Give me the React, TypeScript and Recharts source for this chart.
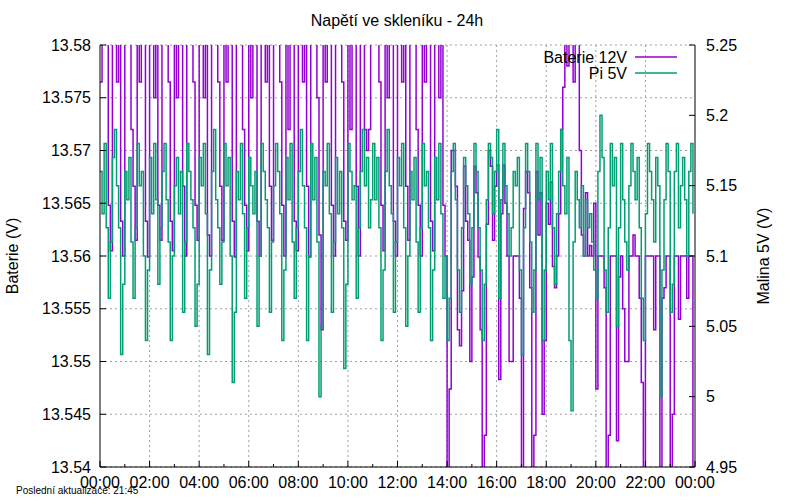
import { LineChart, Line, XAxis, YAxis, CartesianGrid, ReferenceLine } from 'recharts';

// one sample every 5 minutes, 00:00 .. 23:55
const SAMPLE_MIN = 5;

// Baterie 12V (left axis) in 4h chunks
const bat00 = [
  13.5765, 13.585, 13.585, 13.585, 13.5648, 13.5605,
  13.585, 13.585, 13.5765, 13.585, 13.5633, 13.56,
  13.585, 13.585, 13.585, 13.572, 13.5666, 13.5615,
  13.585, 13.5765, 13.585, 13.585, 13.5633, 13.5599,
  13.585, 13.585, 13.575, 13.585, 13.5648, 13.5615,
  13.585, 13.585, 13.585, 13.5765, 13.5633, 13.5605,
  13.585, 13.575, 13.585, 13.585, 13.5666, 13.56,
  13.585, 13.585, 13.585, 13.5765, 13.5648, 13.5615,
];
const bat04 = [
  13.585, 13.585, 13.575, 13.585, 13.562, 13.56,
  13.585, 13.585, 13.585, 13.5765, 13.5666, 13.5615,
  13.585, 13.5765, 13.585, 13.585, 13.5633, 13.5599,
  13.585, 13.585, 13.585, 13.572, 13.5648, 13.5605,
  13.585, 13.575, 13.585, 13.585, 13.5633, 13.56,
  13.585, 13.585, 13.5765, 13.585, 13.5666, 13.5615,
  13.585, 13.585, 13.585, 13.5765, 13.5648, 13.56,
  13.585, 13.572, 13.585, 13.585, 13.5633, 13.5605,
];
const bat08 = [
  13.585, 13.585, 13.5765, 13.585, 13.5666, 13.5599,
  13.585, 13.585, 13.585, 13.575, 13.562, 13.553,
  13.585, 13.5765, 13.585, 13.585, 13.5648, 13.56,
  13.585, 13.585, 13.585, 13.5765, 13.5633, 13.5615,
  13.585, 13.572, 13.585, 13.585, 13.5666, 13.56,
  13.585, 13.585, 13.572, 13.57, 13.572, 13.585,
  13.585, 13.585, 13.585, 13.5765, 13.5648, 13.5605,
  13.585, 13.575, 13.585, 13.585, 13.5633, 13.56,
];
const bat12 = [
  13.585, 13.585, 13.5765, 13.585, 13.5666, 13.5615,
  13.585, 13.585, 13.585, 13.572, 13.5648, 13.56,
  13.585, 13.5765, 13.585, 13.585, 13.5633, 13.5605,
  13.585, 13.585, 13.575, 13.585, 13.5648, 13.56,
  13.538, 13.5474, 13.57, 13.57, 13.5666, 13.553,
  13.5515, 13.5567, 13.5685, 13.5633, 13.5615, 13.55,
  13.558, 13.5685, 13.566, 13.5599, 13.553, 13.538,
  13.543, 13.563, 13.57, 13.5685, 13.5615, 13.5666,
];
const bat16 = [
  13.5686, 13.5483, 13.564, 13.5686, 13.565, 13.56,
  13.55, 13.55, 13.56, 13.56, 13.56, 13.556,
  13.538, 13.5645, 13.568, 13.566, 13.557, 13.538,
  13.543, 13.568, 13.562, 13.566, 13.545, 13.552,
  13.565, 13.563, 13.567, 13.559, 13.557, 13.56,
  13.564, 13.572, 13.576, 13.585, 13.578, 13.585,
  13.585, 13.5765, 13.585, 13.585, 13.57, 13.562,
  13.56, 13.566, 13.56, 13.561, 13.56, 13.565,
];
const bat20 = [
  13.5474, 13.56, 13.56, 13.56, 13.557, 13.538,
  13.543, 13.56, 13.56, 13.56, 13.5425, 13.558,
  13.56, 13.555, 13.55, 13.55, 13.56, 13.56,
  13.562, 13.56, 13.56, 13.556, 13.548, 13.538,
  13.56, 13.56, 13.56, 13.56, 13.553, 13.56,
  13.56, 13.538, 13.556, 13.557, 13.56, 13.56,
  13.538, 13.545, 13.56, 13.56, 13.554, 13.56,
  13.56, 13.56, 13.556, 13.56, 13.56, 13.538,
];

// Pi 5V (right axis)
const pi00 = [
  5.16, 5.13, 5.18, 5.12, 5.07, 5.11,
  5.17, 5.19, 5.15, 5.12, 5.03, 5.08,
  5.16, 5.14, 5.17, 5.11, 5.07, 5.12,
  5.18, 5.15, 5.16, 5.10, 5.04, 5.09,
  5.17, 5.13, 5.18, 5.14, 5.08, 5.12,
  5.16, 5.18, 5.14, 5.11, 5.04, 5.10,
  5.15, 5.17, 5.13, 5.16, 5.06, 5.11,
  5.18, 5.16, 5.14, 5.12, 5.05, 5.08,
];
const pi04 = [
  5.17, 5.15, 5.18, 5.13, 5.03, 5.09,
  5.16, 5.19, 5.14, 5.12, 5.08, 5.11,
  5.18, 5.15, 5.17, 5.10, 5.01, 5.06,
  5.16, 5.14, 5.18, 5.13, 5.07, 5.12,
  5.17, 5.15, 5.13, 5.16, 5.05, 5.10,
  5.18, 5.16, 5.14, 5.12, 5.06, 5.11,
  5.15, 5.18, 5.16, 5.13, 5.04, 5.09,
  5.17, 5.14, 5.18, 5.11, 5.07, 5.12,
];
const pi08 = [
  5.16, 5.19, 5.15, 5.12, 5.04, 5.10,
  5.18, 5.14, 5.17, 5.11, 5.00, 5.05,
  5.16, 5.15, 5.18, 5.13, 5.06, 5.11,
  5.17, 5.13, 5.16, 5.12, 5.02, 5.08,
  5.18, 5.16, 5.14, 5.15, 5.07, 5.12,
  5.16, 5.19, 5.15, 5.17, 5.12, 5.14,
  5.18, 5.14, 5.17, 5.12, 5.04, 5.09,
  5.16, 5.19, 5.15, 5.13, 5.06, 5.11,
];
const pi12 = [
  5.17, 5.15, 5.18, 5.12, 5.05, 5.10,
  5.16, 5.14, 5.17, 5.11, 5.06, 5.12,
  5.18, 5.15, 5.16, 5.12, 5.04, 5.09,
  5.17, 5.14, 5.18, 5.13, 5.07, 5.10,
  5.04, 5.07, 5.16, 5.18, 5.14, 5.09,
  5.06, 5.12, 5.17, 5.15, 5.13, 5.08,
  5.12, 5.18, 5.16, 5.12, 5.09, 5.04,
  5.08, 5.14, 5.18, 5.17, 5.13, 5.16,
];
const pi16 = [
  5.19, 5.07, 5.14, 5.18, 5.15, 5.13,
  5.10, 5.12, 5.16, 5.15, 5.17, 5.09,
  5.03, 5.12, 5.18, 5.16, 5.11, 5.06,
  5.09, 5.18, 5.14, 5.17, 5.04, 5.09,
  5.16, 5.14, 5.18, 5.12, 5.08, 5.13,
  5.16, 5.19, 5.15, 5.13, 5.17, 5.04,
  4.99, 5.11, 5.16, 5.14, 5.12, 5.15,
  5.10, 5.14, 5.12, 5.13, 5.11, 5.09,
];
const pi20 = [
  5.07, 5.16, 5.20, 5.17, 5.09, 5.06,
  5.12, 5.18, 5.15, 5.17, 5.05, 5.12,
  5.18, 5.14, 5.11, 5.09, 5.15, 5.18,
  5.16, 5.14, 5.17, 5.12, 5.07, 5.04,
  5.13, 5.18, 5.16, 5.14, 5.11, 5.17,
  5.15, 5.00, 5.09, 5.14, 5.18, 5.16,
  5.06, 5.08, 5.16, 5.18, 5.12, 5.15,
  5.17, 5.14, 5.10, 5.16, 5.18, 5.13,
];

const HOUR_TICKS = [0, 60, 120, 180, 240, 300, 360, 420, 480, 540, 600, 660, 720, 780, 840, 900, 960, 1020, 1080, 1140, 1200, 1260, 1320, 1380, 1440];
const GRID_X = [120, 240, 360, 480, 600, 720, 840, 960, 1080, 1200, 1320];
const BAT_TICKS = [13.54, 13.545, 13.55, 13.555, 13.56, 13.565, 13.57, 13.575, 13.58];
const PI_TICKS = [4.95, 5, 5.05, 5.1, 5.15, 5.2, 5.25];

const battery = [...bat00, ...bat04, ...bat08, ...bat12, ...bat16, ...bat20];
const pi = [...pi00, ...pi04, ...pi08, ...pi12, ...pi16, ...pi20];
const data = battery.map((b, i) => ({ t: i * SAMPLE_MIN, bat: b, pi: pi[i] }));

const FONT = '"Liberation Sans", Arial, sans-serif';
const PURPLE = '#9400d3';
const GREEN = '#009e73';
const GRID = '#a0a0a0';
const LINE_W = 1.5;

const hhmm = (m: number) => {
  const h = Math.floor((m % 1440) / 60);
  return `${String(h).padStart(2, '0')}:00`;
};

// gnuplot style: ticks point into the plot
// eslint-disable-next-line @typescript-eslint/no-explicit-any
const BottomTick = ({ x, y, payload }: any) => {
  const major = payload.value % 120 === 0;
  return (
    <g>
      <line x1={x} x2={x} y1={y} y2={y - (major ? 6 : 3)} stroke="#000" />
      {major && (
        <text x={x} y={y + 21} textAnchor="middle" fontFamily={FONT} fontSize={16} fill="#000">
          {hhmm(payload.value)}
        </text>
      )}
    </g>
  );
};

// eslint-disable-next-line @typescript-eslint/no-explicit-any
const TopTick = ({ x, y, payload }: any) => {
  const major = payload.value % 120 === 0;
  return <line x1={x} x2={x} y1={y} y2={y + (major ? 6 : 3)} stroke="#000" />;
};

// eslint-disable-next-line @typescript-eslint/no-explicit-any
const LeftTick = ({ x, y, payload }: any) => (
  <g>
    <line x1={x} x2={x + 6} y1={y} y2={y} stroke="#000" />
    <text x={x - 9} y={y + 5.5} textAnchor="end" fontFamily={FONT} fontSize={16} fill="#000">
      {String(payload.value)}
    </text>
  </g>
);

// eslint-disable-next-line @typescript-eslint/no-explicit-any
const RightTick = ({ x, y, payload }: any) => (
  <g>
    <line x1={x} x2={x - 6} y1={y} y2={y} stroke="#000" />
    <text x={x + 11} y={y + 5.5} textAnchor="start" fontFamily={FONT} fontSize={16} fill="#000">
      {String(payload.value)}
    </text>
  </g>
);

export default function App() {
  return (
    <div style={{ position: 'absolute', left: 0, top: 0, width: 800, height: 500, background: '#fff' }}>
      <LineChart width={800} height={500} data={data} margin={{ top: 45, right: 0, bottom: 0, left: 0 }}>
        <CartesianGrid xAxisId="bottom" yAxisId="left" vertical={false} stroke={GRID} strokeDasharray="2 3" />
        <XAxis
          xAxisId="bottom"
          dataKey="t"
          type="number"
          domain={[0, 1440]}
          ticks={HOUR_TICKS}
          interval={0}
          height={33}
          tickSize={0}
          tickMargin={0}
          tickLine={false}
          tick={<BottomTick />}
          axisLine={{ stroke: '#000' }}
        />
        <XAxis
          xAxisId="top"
          orientation="top"
          dataKey="t"
          type="number"
          domain={[0, 1440]}
          ticks={HOUR_TICKS}
          interval={0}
          height={0}
          tickSize={0}
          tickMargin={0}
          tickLine={false}
          tick={<TopTick />}
          axisLine={{ stroke: '#000' }}
        />
        <YAxis
          yAxisId="left"
          type="number"
          domain={[13.54, 13.58]}
          ticks={BAT_TICKS}
          interval={0}
          allowDataOverflow
          width={100}
          tickSize={0}
          tickMargin={0}
          tickLine={false}
          tick={<LeftTick />}
          axisLine={{ stroke: '#000' }}
        />
        <YAxis
          yAxisId="right"
          orientation="right"
          type="number"
          domain={[4.95, 5.25]}
          ticks={PI_TICKS}
          interval={0}
          allowDataOverflow
          width={105}
          tickSize={0}
          tickMargin={0}
          tickLine={false}
          tick={<RightTick />}
          axisLine={{ stroke: '#000' }}
        />
        {GRID_X.map((t) => (
          <ReferenceLine key={t} x={t} xAxisId="bottom" yAxisId="left" stroke={GRID} strokeDasharray="2 3" />
        ))}
        <Line xAxisId="bottom" yAxisId="left" type="stepAfter" dataKey="bat" stroke={PURPLE} strokeWidth={LINE_W} dot={false} isAnimationActive={false} />
        <Line xAxisId="bottom" yAxisId="right" type="stepAfter" dataKey="pi" stroke={GREEN} strokeWidth={LINE_W} dot={false} isAnimationActive={false} />
      </LineChart>
      <svg width={800} height={500} style={{ position: 'absolute', left: 0, top: 0, pointerEvents: 'none' }} fontFamily={FONT}>
        <text x={397} y={26} textAnchor="middle" fontSize={16} fill="#000">Napětí ve skleníku - 24h</text>
        <text x={18} y={256} transform="rotate(-90 18 256)" textAnchor="middle" fontSize={16} fill="#000">Baterie (V)</text>
        <text x={769} y={256} transform="rotate(-90 769 256)" textAnchor="middle" fontSize={16} fill="#000">Malina 5V (V)</text>
        <text x={627} y={63} textAnchor="end" fontSize={16} fill="#000">Baterie 12V</text>
        <line x1={635} x2={677} y1={57} y2={57} stroke={PURPLE} strokeWidth={LINE_W} />
        <text x={627} y={79} textAnchor="end" fontSize={16} fill="#000">Pi 5V</text>
        <line x1={635} x2={677} y1={73} y2={73} stroke={GREEN} strokeWidth={LINE_W} />
        <text x={16} y={494} fontSize={10} fill="#000">Poslední aktualizace: 21:45</text>
      </svg>
    </div>
  );
}
